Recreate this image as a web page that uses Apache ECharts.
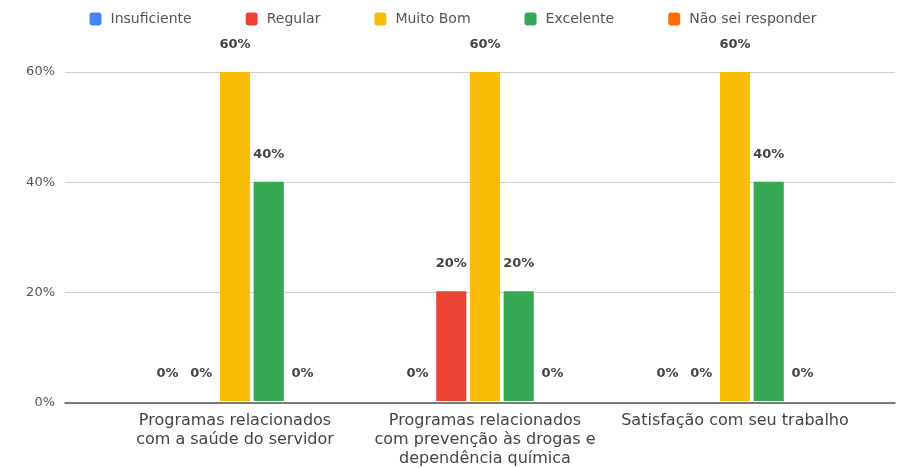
<!DOCTYPE html>
<html>
<head>
<meta charset="utf-8">
<script src="https://cdn.jsdelivr.net/npm/echarts@6/dist/echarts.min.js"></script>
<style>html,body{margin:0;padding:0;background:#fff}#c{width:906px;height:468px}</style>
</head>
<body>
<div id="c"></div>
<script>
const categories = [
  "Programas relacionados\ncom a saúde do servidor",
  "Programas relacionados\ncom prevenção às drogas e\ndependência química",
  "Satisfação com seu trabalho"
];
const seriesNames = ["Insuficiente", "Regular", "Muito Bom", "Excelente", "Não sei responder"];
const insuficiente = [0, 0, 0];
const regular = [0, 20, 0];
const muitoBom = [60, 60, 60];
const excelente = [40, 20, 40];
const naoSei = [0, 0, 0];
const yTicks = { min: 0, max: 60, interval: 20 };
const colors = ["#4285F4", "#EA4335", "#FBBC04", "#34A853", "#FF6D01"];

const allValues = [insuficiente, regular, muitoBom, excelente, naoSei];
const font = "DejaVu Sans";

const chart = echarts.init(document.getElementById('c'));
chart.setOption({
  animation: false,
  color: colors,
  textStyle: { fontFamily: font },
  legend: {
    top: 7, left: 'center',
    itemWidth: 12, itemHeight: 13, itemGap: 54,
    icon: 'roundRect',
    textStyle: { fontFamily: font, fontSize: 14, color: '#555', padding: [0, 0, 0, 4] },
    data: seriesNames
  },
  grid: [
    { left: 65, right: 11, top: 72, bottom: 65 },
    { left: 110, right: 46, top: 72, bottom: 65 }
  ],
  xAxis: [
    { gridIndex: 0, type: 'category', data: [''],
      axisLine: { show: true, lineStyle: { color: '#555', width: 1.5 } },
      axisTick: { show: false }, axisLabel: { show: false } },
    { gridIndex: 1, type: 'category', data: categories,
      axisLine: { show: false }, axisTick: { show: false },
      axisLabel: { interval: 0, margin: 10, fontFamily: font, fontSize: 16, color: '#444', lineHeight: 19 } }
  ],
  yAxis: [
    { gridIndex: 0, type: 'value', min: yTicks.min, max: yTicks.max, interval: yTicks.interval,
      axisLabel: { formatter: '{value}%', fontFamily: font, fontSize: 13, color: '#555', margin: 10 },
      splitLine: { lineStyle: { color: '#d0d0d0' } },
      axisLine: { show: false }, axisTick: { show: false } },
    { gridIndex: 1, type: 'value', min: yTicks.min, max: yTicks.max, interval: yTicks.interval,
      show: false, splitLine: { show: false } }
  ],
  series: seriesNames.map((n, i) => ({
    name: n, type: 'bar', xAxisIndex: 1, yAxisIndex: 1,
    data: allValues[i],
    barGap: '12%', barCategoryGap: '34%',
    label: { show: true, position: 'top', distance: 21, formatter: '{c}%',
      fontFamily: font, fontSize: 13, fontWeight: 'bold', color: '#444' }
  }))
});
</script>
</body>
</html>
